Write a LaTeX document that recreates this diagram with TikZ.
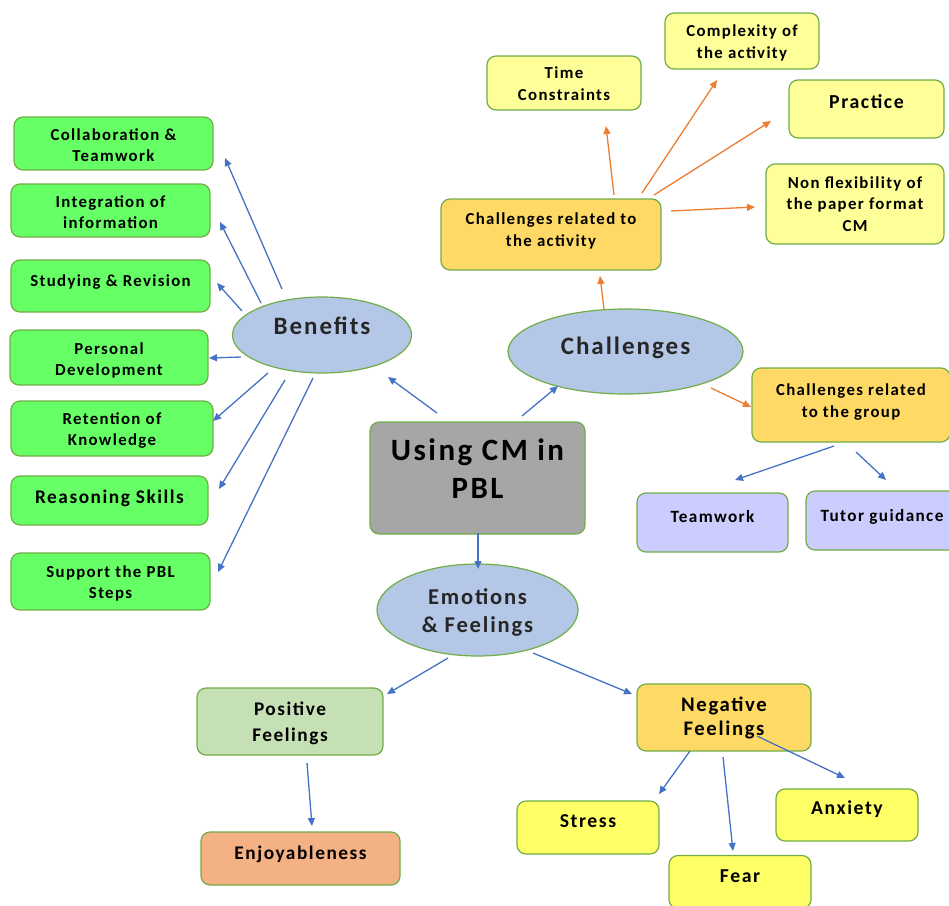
\documentclass[tikz,border=0pt]{standalone}
\usepackage{fontspec}
\setmainfont{Carlito}[LetterSpace=8]
\usetikzlibrary{arrows.meta,shapes.geometric}
\definecolor{gborder}{HTML}{70AD47}
\definecolor{boxgreen}{HTML}{66FF66}
\definecolor{ellblue}{HTML}{B4C7E7}
\definecolor{centgray}{HTML}{A6A6A6}
\definecolor{lightyel}{HTML}{FFFF99}
\definecolor{orangey}{HTML}{FFD966}
\definecolor{lavend}{HTML}{CCCCFF}
\definecolor{posgreen}{HTML}{C5E0B4}
\definecolor{enjoyc}{HTML}{F4B183}
\definecolor{yelc}{HTML}{FFFF66}
\definecolor{arrblue}{HTML}{4472C4}
\definecolor{arrorange}{HTML}{ED7D31}
\definecolor{ellt}{HTML}{262626}
\newcommand\up[2]{\raisebox{#1}[\height][\depth]{\begin{tabular}{@{}c@{}}#2\end{tabular}}}
\begin{document}
\begin{tikzpicture}[x=1pt,y=-1pt,
  box/.style={draw=gborder, line width=1.2pt, rounded corners=9pt, inner sep=0pt},
  ell/.style={ellipse, draw=gborder, fill=ellblue, line width=1.2pt, inner sep=0pt, text=ellt},
  sz/.style 2 args={minimum width=#1pt, minimum height=#2pt},
  f/.style 2 args={font=\bfseries\fontsize{#1}{#2}\selectfont},
  barr/.style={draw=arrblue, line width=1.3pt, -{Triangle[length=8pt,width=7pt]}},
  oarr/.style={draw=arrorange, line width=1.3pt, -{Triangle[length=8pt,width=7pt]}}]
\useasboundingbox (0,0) rectangle (949,905);
\clip (0,0) rectangle (949,905);
% benefits side
\node[box,fill=boxgreen,sz={199}{53},f={16.8}{21}] (collab) at (113.5,143.5) {\up{-3pt}{Collaboration \&\\Teamwork}};
\node[box,fill=boxgreen,sz={199}{53},f={16.8}{21}] (integ) at (110.5,210.5) {\up{-3pt}{Integration of\\information}};
\node[box,fill=boxgreen,sz={199}{52},f={16.8}{21}] (study) at (110.5,286) {\up{4pt}{Studying \& Revision}};
\node[box,fill=boxgreen,sz={198}{55},f={16.8}{21}] (pers) at (109,357.5) {\up{-3pt}{Personal\\Development}};
\node[box,fill=boxgreen,sz={202}{55},f={16.8}{21}] (ret) at (112,428.5) {\up{-2pt}{Retention of\\Knowledge}};
\node[box,fill=boxgreen,sz={197}{49},f={19.3}{24}] (reas) at (109.5,500.5) {\up{2pt}{Reasoning Skills}};
\node[box,fill=boxgreen,sz={199}{57},f={16.8}{21}] (supp) at (110.5,581.5) {\up{-2pt}{Support the PBL\\Steps}};
\node[ell,sz={179}{76},f={25}{30}] (ben) at (322,335) {\up{7pt}{Benefits}};
% centre
\node[box,fill=centgray,sz={215}{112},f={31}{38}] (cent) at (477.5,478) {\up{6pt}{Using CM in\\PBL}};
% challenges
\node[ell,sz={235}{85},f={25}{30}] (chal) at (625.5,351.5) {\up{3pt}{Challenges}};
\node[box,fill=orangey,sz={220}{71},f={16.8}{21.5}] (act) at (551,234.5) {\up{3.5pt}{Challenges related to\\the activity}};
\node[box,fill=lightyel,sz={154}{54},f={16.8}{21.5}] (time) at (564,83) {\up{-2pt}{Time\\Constraints}};
\node[box,fill=lightyel,sz={154}{56},f={16.8}{21.5}] (complex) at (742,41) {\up{-2pt}{Complexity of\\the activity}};
\node[box,fill=lightyel,sz={155}{58},f={19.8}{24}] (practice) at (866.5,109) {\up{5pt}{Practice}};
\node[box,fill=lightyel,sz={178}{80},f={16.8}{21.5}] (nonflex) at (855,204) {\up{-1.5pt}{Non flexibility of\\the paper format\\CM}};
\node[box,fill=orangey,sz={198}{74},f={16.8}{21.5}] (group) at (851,405) {\up{3pt}{Challenges related\\to the group}};
\node[box,fill=lavend,sz={151}{59},f={17.2}{21}] (teamw) at (712.5,522.5) {\up{4pt}{Teamwork}};
\node[box,fill=lavend,sz={152}{59},f={17.2}{21}] (tutor) at (882,520.5) {\up{3pt}{Tutor guidance}};
% emotions
\node[ell,sz={201}{92},f={22.6}{28}] (emo) at (477.5,610) {\up{-3pt}{Emotions\\\& Feelings}};
\node[box,fill=posgreen,sz={186}{67},f={19.3}{26}] (pos) at (290,721.5) {\up{-1.5pt}{Positive\\Feelings}};
\node[box,fill=enjoyc,sz={199}{53},f={19.3}{24}] (enjoy) at (300.5,858.5) {\up{4pt}{Enjoyableness}};
\node[box,fill=orangey,sz={174}{67},f={20.7}{24}] (neg) at (724,717.5) {\up{-1pt}{Negative\\Feelings}};
\node[box,fill=yelc,sz={142}{53},f={19.7}{24}] (stress) at (588,827.5) {\up{5pt}{Stress}};
\node[box,fill=yelc,sz={142}{53},f={19.7}{24}] (fear) at (740,882) {\up{4pt}{Fear}};
\node[box,fill=yelc,sz={142}{52},f={19.7}{24}] (anx) at (847,815) {\up{5pt}{Anxiety}};
% connectors
\draw[barr] ([shift={(-40,-46)}]ben.center) -- ([shift={(111.5,14.5)}]collab.center);
\draw[barr] ([shift={(-61,-32)}]ben.center) -- ([shift={(109.5,11.5)}]integ.center);
\draw[barr] ([shift={(-80,-24)}]ben.center) -- ([shift={(106.5,-3)}]study.center);
\draw[barr] ([shift={(-81,22)}]ben.center) -- ([shift={(100,0.5)}]pers.center);
\draw[barr] ([shift={(-54,38)}]ben.center) -- ([shift={(101,-7.5)}]ret.center);
\draw[barr] ([shift={(-37,45)}]ben.center) -- ([shift={(109.5,-11.5)}]reas.center);
\draw[barr] ([shift={(-9,43)}]ben.center) -- ([shift={(107.5,-9.5)}]supp.center);
\draw[barr] ([shift={(-40.5,-65)}]cent.center) -- ([shift={(66,42)}]ben.center);
\draw[barr] ([shift={(44.5,-62)}]cent.center) -- ([shift={(-67.5,34.5)}]chal.center);
\draw[barr] ([shift={(0.5,55)}]cent.center) -- ([shift={(0.5,-41)}]emo.center);
\draw[barr] ([shift={(-29.5,48)}]emo.center) -- ([shift={(97,-27.5)}]pos.center);
\draw[barr] ([shift={(55.5,43)}]emo.center) -- ([shift={(-92,-23.5)}]neg.center);
\draw[barr] ([shift={(17,41.5)}]pos.center) -- ([shift={(11.5,-32.5)}]enjoy.center);
\draw[barr] ([shift={(-34,33.5)}]neg.center) -- ([shift={(71,-33.5)}]stress.center);
\draw[barr] ([shift={(-1,39.5)}]neg.center) -- ([shift={(-7,-31)}]fear.center);
\draw[barr] ([shift={(33,18.5)}]neg.center) -- ([shift={(-2,-37)}]anx.center);
\draw[oarr] ([shift={(85.5,36.5)}]chal.center) -- ([shift={(-100,2)}]group.center);
\draw[oarr] ([shift={(-21.5,-42.5)}]chal.center) -- ([shift={(49,41.5)}]act.center);
\draw[oarr] ([shift={(63,-39.5)}]act.center) -- ([shift={(42,43)}]time.center);
\draw[oarr] ([shift={(91,-41.5)}]act.center) -- ([shift={(-25,39)}]complex.center);
\draw[oarr] ([shift={(103,-39.5)}]act.center) -- ([shift={(-95.5,12)}]practice.center);
\draw[oarr] ([shift={(120,-23.5)}]act.center) -- ([shift={(-100,3)}]nonflex.center);
\draw[barr] ([shift={(-17,41)}]group.center) -- ([shift={(22.5,-42.5)}]teamw.center);
\draw[barr] ([shift={(5,47)}]group.center) -- ([shift={(4,-40.5)}]tutor.center);
\end{tikzpicture}
\end{document}
